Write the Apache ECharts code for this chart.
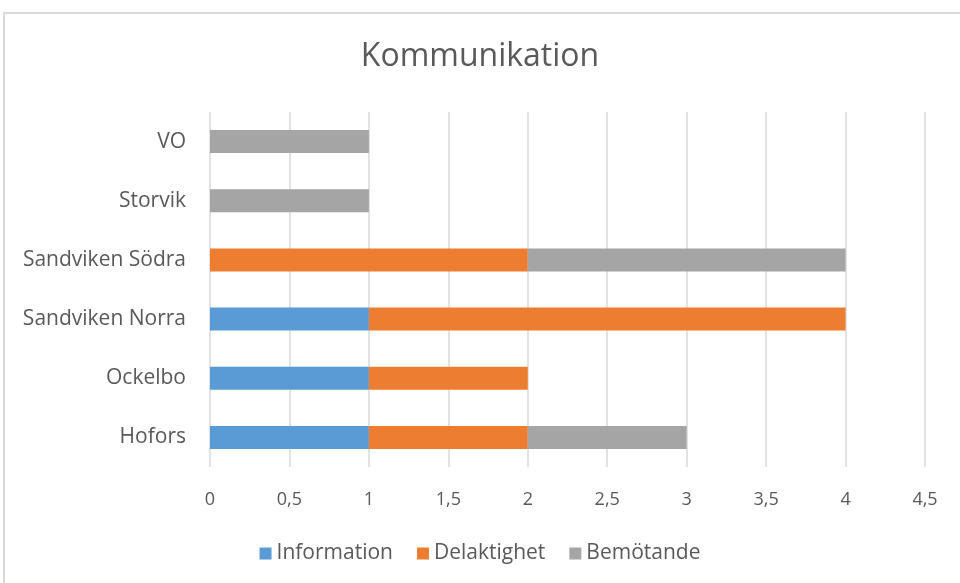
<!DOCTYPE html>
<html>
<head>
<meta charset="utf-8">
<script src="https://cdn.jsdelivr.net/npm/echarts@6/dist/echarts.min.js"></script>
<style>
  html, body { margin: 0; padding: 0; background: #fff; }
  #chart { width: 960px; height: 583px; }
</style>
</head>
<body>
<div id="chart"></div>
<script>
// kategorier, nerifrån och upp
const categories = ['Hofors', 'Ockelbo', 'Sandviken Norra', 'Sandviken Södra', 'Storvik', 'VO']
const information = [1, 1, 1, 0, 0, 0]
const delaktighet = [1, 1, 3, 2, 0, 0]
const bemotande = [1, 0, 0, 2, 1, 1]

const font = '"Open Sans", "Liberation Sans", sans-serif'
const txt = '#595959'

const chart = echarts.init(document.getElementById('chart'), null, { renderer: 'canvas' })

function bar(name, data, color) {
  return {
    name,
    type: 'bar',
    stack: 'total',
    barWidth: 23,
    itemStyle: { color },
    data,
  }
}

chart.setOption({
  backgroundColor: '#fff',
  animation: false,
  textStyle: { fontFamily: font },
  graphic: [{
    type: 'rect',
    shape: { x: 4, y: 13, width: 1000, height: 700 },
    style: { fill: 'none', stroke: '#d9d9d9', lineWidth: 2 },
    silent: true,
  }],
  title: {
    text: 'Kommunikation',
    left: 'center',
    top: 36,
    textStyle: { color: txt, fontSize: 32, fontWeight: 'normal', fontFamily: font },
  },
  legend: {
    data: ['Information', 'Delaktighet', 'Bemötande'],
    top: 538,
    left: 'center',
    itemWidth: 12,
    itemHeight: 12,
    itemGap: 24,
    icon: 'rect',
    textStyle: { color: txt, fontSize: 21, fontFamily: font },
  },
  grid: { left: 210, right: 35, top: 112, bottom: 116, containLabel: false },
  xAxis: {
    type: 'value',
    min: 0,
    max: 4.5,
    interval: 0.5,
    axisLine: { show: false },
    axisTick: { show: false },
    splitLine: { lineStyle: { color: '#d9d9d9', width: 1.5 } },
    axisLabel: {
      color: txt,
      fontSize: 18,
      margin: 24,
      formatter: v => String(v).replace('.', ','),
    },
  },
  yAxis: {
    type: 'category',
    data: categories,
    axisLine: { show: false },
    axisTick: { show: false },
    axisLabel: { color: txt, fontSize: 21, margin: 24 },
  },
  series: [
    bar('Information', information, '#5b9bd5'),
    bar('Delaktighet', delaktighet, '#ed7d31'),
    bar('Bemötande', bemotande, '#a5a5a5'),
  ],
})
</script>
</body>
</html>
